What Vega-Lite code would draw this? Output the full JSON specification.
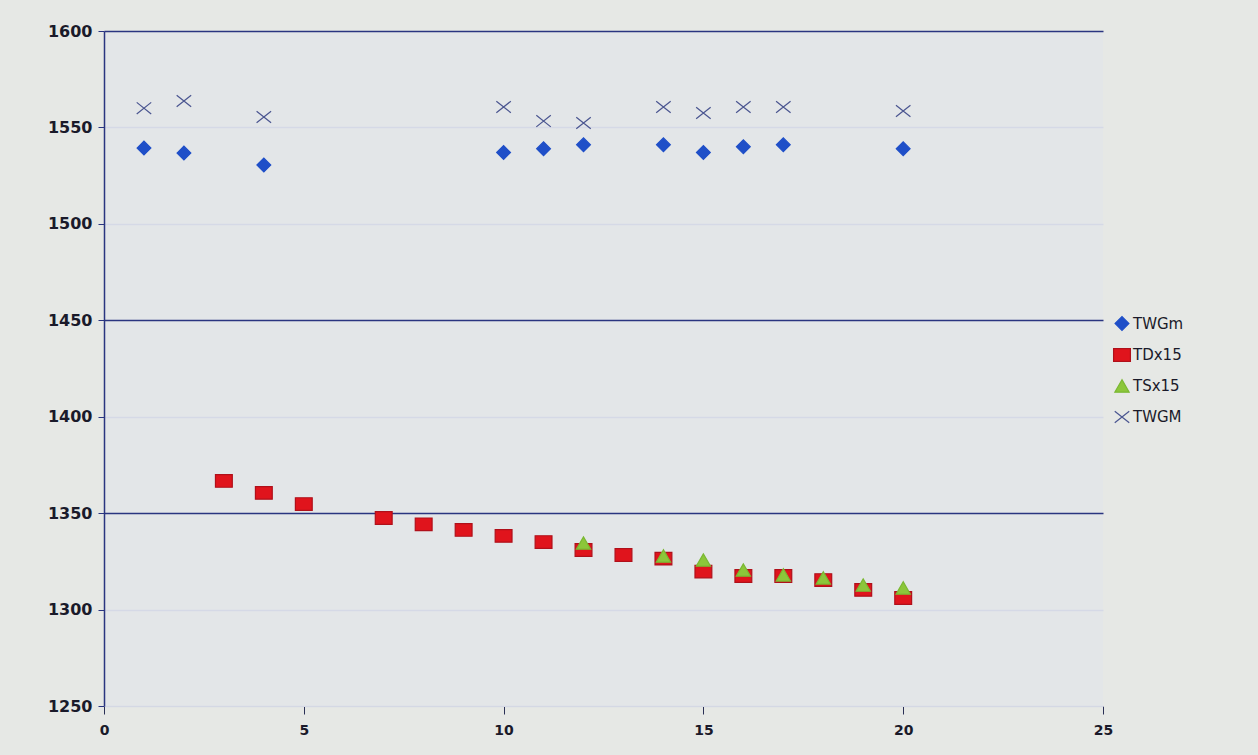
{
  "$schema": "https://vega.github.io/schema/vega-lite/v6.json",
  "width": 999,
  "height": 675,
  "autosize": {"type": "none"},
  "padding": {"left": 104, "top": 31, "right": 155, "bottom": 49},
  "background": "#e6e8e5",
  "config": {
    "view": {"fill": "#e3e6e8", "stroke": null},
    "font": "DejaVu Sans"
  },
  "data": {
    "values": [
      {"x": 1, "y": 1539.3, "series": "TWGm"},
      {"x": 2, "y": 1536.7, "series": "TWGm"},
      {"x": 4, "y": 1530.5, "series": "TWGm"},
      {"x": 10, "y": 1537, "series": "TWGm"},
      {"x": 11, "y": 1539, "series": "TWGm"},
      {"x": 12, "y": 1541, "series": "TWGm"},
      {"x": 14, "y": 1541, "series": "TWGm"},
      {"x": 15, "y": 1537, "series": "TWGm"},
      {"x": 16, "y": 1540, "series": "TWGm"},
      {"x": 17, "y": 1541, "series": "TWGm"},
      {"x": 20, "y": 1539, "series": "TWGm"},
      {"x": 1, "y": 1560, "series": "TWGM"},
      {"x": 2, "y": 1563.7, "series": "TWGM"},
      {"x": 4, "y": 1555.4, "series": "TWGM"},
      {"x": 10, "y": 1560.6, "series": "TWGM"},
      {"x": 11, "y": 1553.3, "series": "TWGM"},
      {"x": 12, "y": 1552.3, "series": "TWGM"},
      {"x": 14, "y": 1560.6, "series": "TWGM"},
      {"x": 15, "y": 1557.5, "series": "TWGM"},
      {"x": 16, "y": 1560.6, "series": "TWGM"},
      {"x": 17, "y": 1560.6, "series": "TWGM"},
      {"x": 20, "y": 1558.5, "series": "TWGM"},
      {"x": 3, "y": 1366.7, "series": "TDx15"},
      {"x": 4, "y": 1360.5, "series": "TDx15"},
      {"x": 5, "y": 1354.7, "series": "TDx15"},
      {"x": 7, "y": 1347.5, "series": "TDx15"},
      {"x": 8, "y": 1344.2, "series": "TDx15"},
      {"x": 9, "y": 1341.3, "series": "TDx15"},
      {"x": 10, "y": 1338.2, "series": "TDx15"},
      {"x": 11, "y": 1335, "series": "TDx15"},
      {"x": 12, "y": 1330.9, "series": "TDx15"},
      {"x": 13, "y": 1328.3, "series": "TDx15"},
      {"x": 14, "y": 1326.4, "series": "TDx15"},
      {"x": 15, "y": 1319.7, "series": "TDx15"},
      {"x": 16, "y": 1317.4, "series": "TDx15"},
      {"x": 17, "y": 1317.4, "series": "TDx15"},
      {"x": 18, "y": 1315.3, "series": "TDx15"},
      {"x": 19, "y": 1310.2, "series": "TDx15"},
      {"x": 20, "y": 1306, "series": "TDx15"},
      {"x": 12, "y": 1334.5, "series": "TSx15"},
      {"x": 14, "y": 1327.8, "series": "TSx15"},
      {"x": 15, "y": 1325.7, "series": "TSx15"},
      {"x": 16, "y": 1320.5, "series": "TSx15"},
      {"x": 17, "y": 1318, "series": "TSx15"},
      {"x": 18, "y": 1316.4, "series": "TSx15"},
      {"x": 19, "y": 1312.7, "series": "TSx15"},
      {"x": 20, "y": 1311.2, "series": "TSx15"}
    ]
  },
  "mark": {"type": "point", "filled": false, "opacity": 1, "strokeWidth": 1.2},
  "encoding": {
    "x": {
      "field": "x", "type": "quantitative",
      "scale": {"domain": [0, 25], "nice": false, "zero": false},
      "axis": {
        "title": null,
        "values": [0, 5, 10, 15, 20, 25],
        "format": "d",
        "grid": false,
        "domain": true,
        "domainColor": "#d4d8e4",
        "domainWidth": 1,
        "ticks": true,
        "tickColor": "#2a2f55",
        "tickSize": 8,
        "tickWidth": 1,
        "labelFlush": false,
        "labelOverlap": false,
        "labelFont": "DejaVu Sans",
        "labelFontWeight": "bold",
        "labelFontSize": 14,
        "labelColor": "#1a1a2a",
        "labelPadding": 9
      }
    },
    "y": {
      "field": "y", "type": "quantitative",
      "scale": {"domain": [1250, 1600], "nice": false, "zero": false},
      "axis": {
        "title": null,
        "values": [1250, 1300, 1350, 1400, 1450, 1500, 1550, 1600],
        "format": "d",
        "grid": true,
        "gridColor": {
          "condition": {"test": "datum.value == 1600 || datum.value == 1450 || datum.value == 1350", "value": "#2a3580"},
          "value": "#d5d9e6"
        },
        "gridWidth": 1.5,
        "domain": true,
        "domainColor": "#2a3580",
        "domainWidth": 1.5,
        "ticks": true,
        "tickColor": "#2a3580",
        "tickSize": 6,
        "labelFlush": false,
        "labelOverlap": false,
        "labelFont": "DejaVu Sans",
        "labelFontWeight": "bold",
        "labelFontSize": 16,
        "labelColor": "#1a1a2a",
        "labelPadding": 6
      }
    },
    "fill": {
      "field": "series", "type": "nominal",
      "scale": {"domain": ["TWGm", "TDx15", "TSx15", "TWGM"], "range": ["#1f4fc8", "#e0141c", "#8cc63a", "transparent"]},
      "legend": {
        "title": null,
        "orient": "none",
        "legendX": 1010,
        "legendY": 285,
        "labelFont": "DejaVu Sans",
        "labelFontSize": 15,
        "labelColor": "#1a1a2a",
        "rowPadding": 13,
        "symbolStrokeWidth": 1.2,
        "labelOffset": 3
      }
    },
    "stroke": {
      "field": "series", "type": "nominal",
      "scale": {"domain": ["TWGm", "TDx15", "TSx15", "TWGM"], "range": ["#1f4fc8", "#b0101a", "#7ab832", "#4a5590"]}
    },
    "shape": {
      "field": "series", "type": "nominal",
      "scale": {"domain": ["TWGm", "TDx15", "TSx15", "TWGM"], "range": ["diamond", "M-1.2,-0.9H1.2V0.9H-1.2Z", "triangle-up", "M-1,-0.8L1,0.8M-1,0.8L1,-0.8"]}
    },
    "size": {
      "field": "series", "type": "nominal",
      "scale": {"domain": ["TWGm", "TDx15", "TSx15", "TWGM"], "range": [190, 210, 220, 190]}
    }
  }
}
